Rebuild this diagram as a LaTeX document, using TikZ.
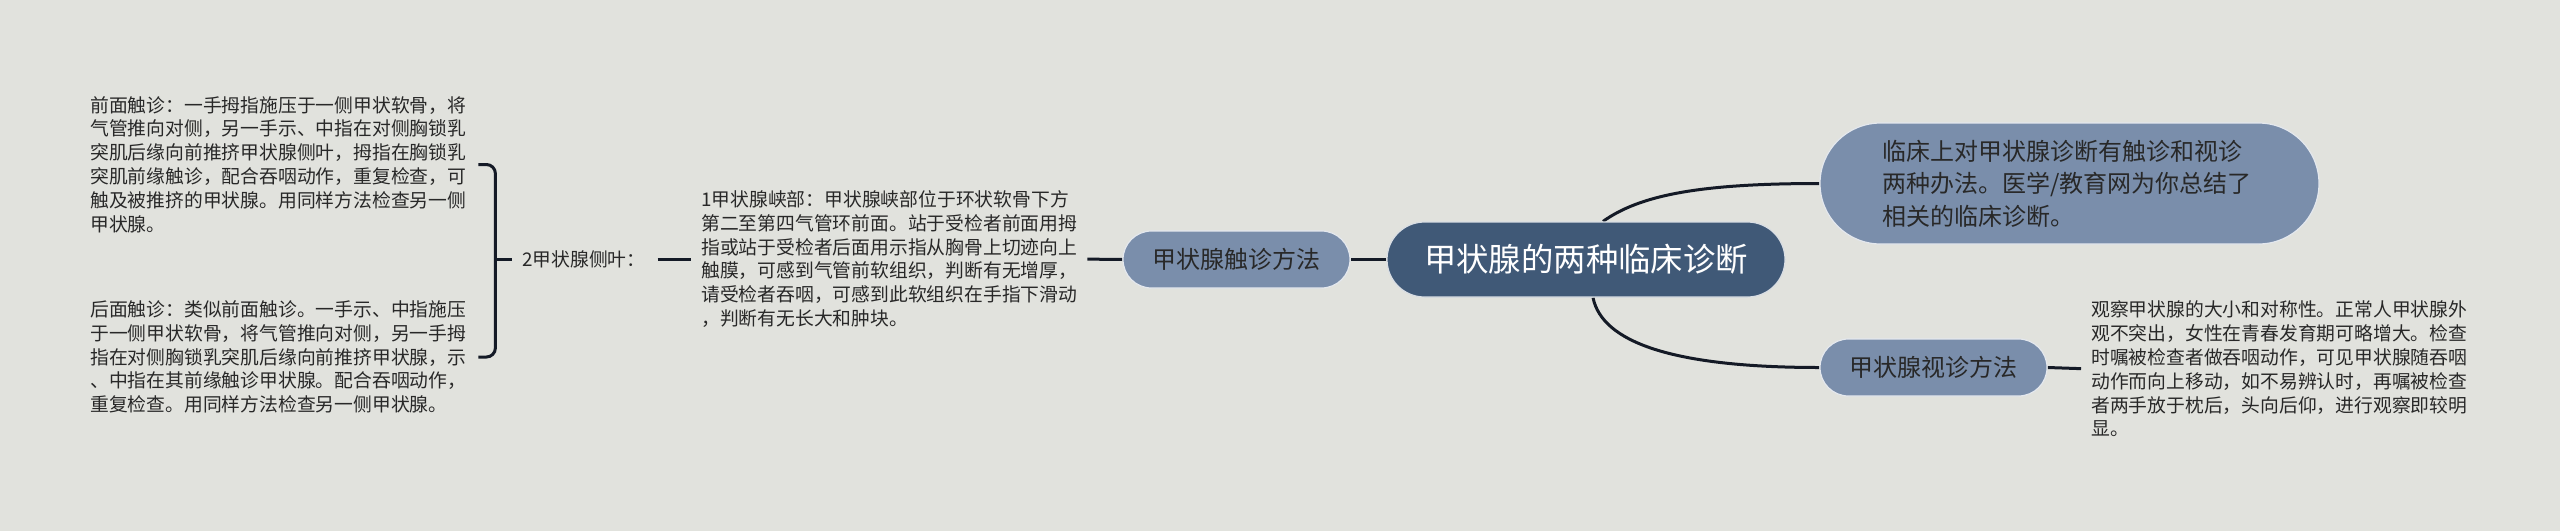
\documentclass[tikz,border=0pt]{standalone}
\usepackage{fontspec}
\setmainfont{Noto Sans CJK SC}
\usetikzlibrary{backgrounds,calc}
\definecolor{bgc}{RGB}{225,226,221}
\definecolor{rootc}{RGB}{64,89,119}
\definecolor{subc}{RGB}{122,142,171}
\definecolor{linec}{RGB}{20,26,38}
\definecolor{txtc}{RGB}{40,40,40}
\begin{document}
\begin{tikzpicture}[x=1pt,y=-1pt,
  small/.style={font={\fontsize{18.8}{23.8}\selectfont}, text=txtc, align=left, inner sep=0pt, anchor=west},
  pill/.style={fill=subc, draw=white!80!subc, line width=1.2pt, font={\fontsize{24}{32.5}\selectfont}, text=txtc, inner sep=0pt},
  link/.style={draw=linec, line width=3pt},
]
\useasboundingbox (0,0) rectangle (2560,531);

% central node
\node[fill=rootc, draw=white!80!rootc, line width=1.2pt, text=white, inner sep=0pt,
      minimum width=398pt, minimum height=75pt, rounded corners=37.5pt,
      font={\fontsize{32.4}{36}\selectfont}] (root) at (1586,259.5) {甲状腺的两种临床诊断};

% left branch
\node[pill, minimum width=227pt, minimum height=57pt, rounded corners=28.5pt] (palp) at (1236.5,259.5) {甲状腺触诊方法};
\node[small] (isth) at (701,259) {1甲状腺峡部：甲状腺峡部位于环状软骨下方\\第二至第四气管环前面。站于受检者前面用拇\\指或站于受检者后面用示指从胸骨上切迹向上\\触膜，可感到气管前软组织，判断有无增厚，\\请受检者吞咽，可感到此软组织在手指下滑动\\，判断有无长大和肿块。};
\node[small] (lobe) at (522,259) {2甲状腺侧叶：};
\node[small] (b1) at (90,164.5) {前面触诊：一手拇指施压于一侧甲状软骨，将\\气管推向对侧，另一手示、中指在对侧胸锁乳\\突肌后缘向前推挤甲状腺侧叶，拇指在胸锁乳\\突肌前缘触诊，配合吞咽动作，重复检查，可\\触及被推挤的甲状腺。用同样方法检查另一侧\\甲状腺。};
\node[small] (b2) at (90,357) {后面触诊：类似前面触诊。一手示、中指施压\\于一侧甲状软骨，将气管推向对侧，另一手拇\\指在对侧胸锁乳突肌后缘向前推挤甲状腺，示\\、中指在其前缘触诊甲状腺。配合吞咽动作，\\重复检查。用同样方法检查另一侧甲状腺。};

% right branch
\node[pill, text width=375pt, inner xsep=62pt, minimum height=121pt, rounded corners=60.5pt, align=left] (intro) at (2069.5,183.5) {临床上对甲状腺诊断有触诊和视诊\\两种办法。医学/教育网为你总结了\\相关的临床诊断。};
\node[pill, minimum width=227pt, minimum height=57pt, rounded corners=28.5pt] (insp) at (1933.5,367.5) {甲状腺视诊方法};
\node[small] (itxt) at (2091,369) {观察甲状腺的大小和对称性。正常人甲状腺外\\观不突出，女性在青春发育期可略增大。检查\\时嘱被检查者做吞咽动作，可见甲状腺随吞咽\\动作而向上移动，如不易辨认时，再嘱被检查\\者两手放于枕后，头向后仰，进行观察即较明\\显。};

\begin{scope}[on background layer]
  \fill[bgc] (0,0) rectangle (2560,531);
  \draw[link] (root.west) -- (palp.east);
  \draw[link, shorten <=10pt] (isth.east) -- (palp.west);
  \draw[link, shorten <=12pt, shorten >=10pt] (lobe.east) -- (isth.west);
  \draw[link, rounded corners=9pt] ([xshift=12pt]b1.east) -- ++(17,0) |- ([xshift=12pt]b2.east);
  \draw[link, shorten >=10pt] ([xshift=-27pt]lobe.west) -- (lobe.west);
  \draw[link] ([xshift=17pt]root.north) .. controls (1640,195) and (1700,183.5) .. (intro.west);
  \draw[link] ([xshift=7pt]root.south) .. controls (1602,342) and (1672,367.5) .. (insp.west);
  \draw[link, shorten >=10pt] (insp.east) -- (itxt.west);
\end{scope}
\end{tikzpicture}
\end{document}
